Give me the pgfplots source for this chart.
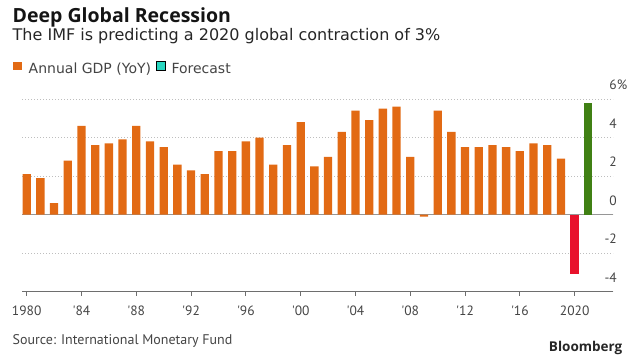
\documentclass[border=0pt]{standalone}
\usepackage{fontspec}
\setmainfont{PT Sans}
\newfontfamily\osans{Open Sans}
\newfontfamily\dsans{DejaVu Sans}
\usepackage{pgfplots}
\usepackage{pgfplotstable}
\pgfplotsset{compat=1.18}
\definecolor{bbOrange}{RGB}{226,106,20}
\definecolor{bbRed}{RGB}{232,18,44}
\definecolor{bbGreen}{RGB}{64,128,20}
\definecolor{bbTeal}{RGB}{40,214,192}
\definecolor{gridgray}{RGB}{190,190,190}
\definecolor{zerogray}{RGB}{150,150,150}
\definecolor{axisgray}{RGB}{110,110,110}
\definecolor{txtgray}{RGB}{68,68,68}

\pgfplotstableread{
year gdp
1980 2.1
1981 1.9
1982 0.6
1983 2.8
1984 4.6
1985 3.6
1986 3.7
1987 3.9
1988 4.6
1989 3.8
1990 3.5
1991 2.6
1992 2.3
1993 2.1
1994 3.3
1995 3.3
1996 3.8
1997 4.0
1998 2.6
1999 3.6
2000 4.8
2001 2.5
2002 3.0
2003 4.3
2004 5.4
2005 4.9
2006 5.5
2007 5.6
2008 3.0
2009 -0.1
2010 5.4
2011 4.3
2012 3.5
2013 3.5
2014 3.6
2015 3.5
2016 3.3
2017 3.7
2018 3.6
2019 2.9
}\hist
\pgfplotstableread{
year gdp
2020 -3.1
}\fcneg
\pgfplotstableread{
year gdp
2021 5.8
}\fcpos

\begin{document}
\begin{tikzpicture}[x=1pt,y=1pt]
\useasboundingbox (0,0) rectangle (640,362);
\node[anchor=base west, inner sep=0, font=\osans\fontsize{19.5}{21}\selectfont\bfseries, text=black!92] at (12.5,339.3) {Deep Global Recession};
\node[anchor=base west, inner sep=0, font=\dsans\fontsize{16}{18}\selectfont, text=black!85] at (12.5,321.3) {The IMF is predicting a 2020 global contraction of 3\%};
\node[anchor=base west, inner sep=0, font=\fontsize{14}{16}\selectfont, text=txtgray] at (12.5,17.2) {Source: International Monetary Fund};
\node[anchor=base east, inner sep=0, font=\osans\fontsize{13.5}{16}\selectfont\bfseries, text=black!85] at (622.5,10.3) {Bloomberg};
\begin{axis}[
  at={(22pt,70.3pt)}, anchor=south west,
  scale only axis, width=591pt, height=192.7pt,
  xmin=1979.66, xmax=2022.8, ymin=-4, ymax=6,
  axis x line*=bottom, axis y line*=right,
  x axis line style={-, draw=axisgray, line width=0.8pt},
  y axis line style={draw=none},
  xtick={1980,1984,1988,1992,1996,2000,2004,2008,2012,2016,2020},
  xticklabels={1980,\textquotesingle84,\textquotesingle88,\textquotesingle92,\textquotesingle96,\textquotesingle00,\textquotesingle04,\textquotesingle08,\textquotesingle12,\textquotesingle16,2020},
  ytick={-4,-2,0,2,4,6},
  yticklabels={-4,-2,0,2,4,6\rlap{\%}},
  tick align=outside, major tick length=4pt,
  xtick style={draw=axisgray, line width=0.8pt},
  ytick style={draw=none},
  xticklabel style={font=\fontsize{13.5}{15}\selectfont, text=txtgray, inner sep=0pt, anchor=north, yshift=-10pt},
  yticklabel style={font=\fontsize{13.5}{15}\selectfont, text=txtgray, inner sep=0pt, anchor=south east, yshift=9pt},
  ymajorgrids=true,
  major grid style={draw=gridgray, line width=0.8pt, dash pattern=on 1pt off 2pt},
  extra y ticks={0}, extra y tick labels={},
  extra y tick style={grid=major, major grid style={draw=zerogray, solid, line width=0.8pt}},
  legend style={at={(axis description cs:-0.0194,1.112)}, anchor=south west, draw=none, fill=none, inner sep=0pt,
    font=\dsans\fontsize{14}{16}\selectfont, text=txtgray},
  legend columns=-1,
  legend image code/.code={\path (-2.5pt,0pt) (13.5pt,0pt); \fill[#1] (0pt,-1pt) rectangle (9pt,7.5pt);},
]
\addplot[ybar, bar width=8.3pt, bar shift=0pt, fill=bbOrange, draw=none] table[x=year,y=gdp] {\hist};
\addlegendentry{Annual GDP (YoY)}
\addlegendimage{fill=bbTeal}
\addlegendentry{Forecast}
\addplot[ybar, bar width=8.3pt, bar shift=0pt, fill=bbRed, draw=none, forget plot] table[x=year,y=gdp] {\fcneg};
\addplot[ybar, bar width=8.3pt, bar shift=0pt, fill=bbGreen, draw=none, forget plot] table[x=year,y=gdp] {\fcpos};
\end{axis}
\end{tikzpicture}
\end{document}
